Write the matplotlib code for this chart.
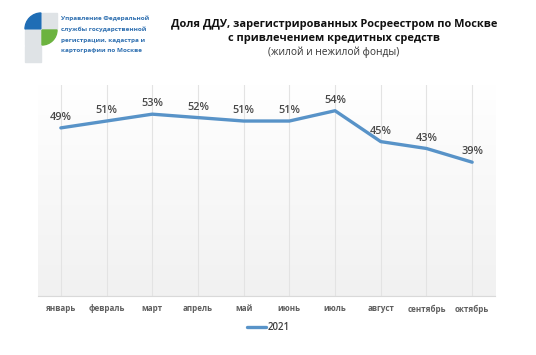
import numpy as np
import matplotlib
matplotlib.use("Agg")
import matplotlib.pyplot as plt
from matplotlib.patches import Rectangle, Wedge

plt.rcParams["font.family"] = ["Open Sans", "DejaVu Sans"]

months = ["январь", "февраль", "март", "апрель", "май", "июнь",
          "июль", "август", "сентябрь", "октябрь"]
share_2021 = [49, 51, 53, 52, 51, 51, 54, 45, 43, 39]
series_name = "2021"

title_lines = ["Доля ДДУ, зарегистрированных Росреестром по Москве",
               "с привлечением кредитных средств"]
subtitle = "(жилой и нежилой фонды)"
org_lines = ["Управление Федеральной", "службы государственной",
             "регистрации, кадастра и", "картографии по Москве"]

W, H = 536, 355
fig = plt.figure(figsize=(W / 100, H / 100), dpi=100)
fig.patch.set_facecolor("white")

# plot area
ax = fig.add_axes([38 / W, 1 - 296 / H, (495 - 38) / W, (296 - 85) / H])
x = np.arange(len(months))
ymax = 61.5
ax.set_xlim(-0.5, len(months) - 0.5)
ax.set_ylim(0, ymax)

# soft vertical gradient background
grad = np.linspace(1.0, 0.945, 256).reshape(-1, 1)
ax.imshow(np.dstack([grad, grad, grad]), extent=[-0.5, len(months) - 0.5, 0, ymax],
          aspect="auto", origin="upper", zorder=0)

for xi in x:
    ax.axvline(xi, color="#e3e3e3", lw=0.8, zorder=1)

ax.plot(x, share_2021, color="#5893c8", lw=2.4, solid_capstyle="round",
        label=series_name, zorder=3)
for xi, v in zip(x, share_2021):
    ax.annotate(f"{v}%", (xi, v), xytext=(0, 3.5), textcoords="offset points",
                ha="center", va="bottom", fontsize=7.8, fontweight="semibold",
                color="#484848", zorder=4)

for s in ["top", "left", "right"]:
    ax.spines[s].set_visible(False)
ax.spines["bottom"].set_color("#d9d9d9")
ax.spines["bottom"].set_linewidth(0.8)
ax.set_yticks([])
ax.set_xticks(x)
ax.set_xticklabels(months, fontsize=5.8, color="#5f5f5f", fontweight="bold")
ax.tick_params(axis="x", length=0, pad=6)

leg = fig.legend(loc="center", bbox_to_anchor=(268 / W, 1 - 328 / H), frameon=False,
                 handlelength=2.0, handletextpad=0.1,
                 prop={"size": 7, "weight": "semibold"})
for t in leg.get_texts():
    t.set_color("#404040")

# titles
fig.text(334 / W, 1 - 24 / H, title_lines[0], ha="center", va="center",
         fontsize=7.9, fontweight="bold", color="#111111")
fig.text(334 / W, 1 - 38 / H, title_lines[1], ha="center", va="center",
         fontsize=7.9, fontweight="bold", color="#111111")
fig.text(334 / W, 1 - 52 / H, subtitle, ha="center", va="center",
         fontsize=7.3, color="#333333")

# logo
lax = fig.add_axes([0, 0, 1, 1], zorder=-1)
lax.set_xlim(0, W)
lax.set_ylim(H, 0)
lax.axis("off")
lax.add_patch(Wedge((41, 29), 16, 180, 270, color="#1f6db5"))
lax.add_patch(Rectangle((42, 13), 15, 16, color="#dfe3e6"))
lax.add_patch(Rectangle((25, 30), 16, 15, color="#dfe3e6"))
lax.add_patch(Wedge((42, 30), 15, 0, 90, color="#6cb33f"))
lax.add_patch(Rectangle((25, 46), 16, 16, color="#dfe3e6"))
for i, line in enumerate(org_lines):
    lax.text(61, 18.5 + i * 10.8, line, ha="left", va="center", fontsize=4.6,
             fontweight="bold", color="#2e6fb0")

fig.savefig("out.png", dpi=100)
